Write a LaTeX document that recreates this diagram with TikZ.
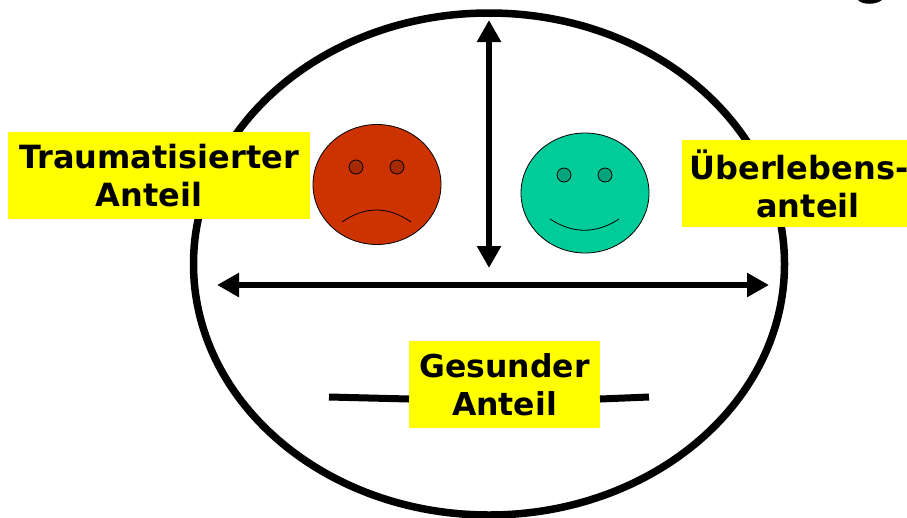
\documentclass[tikz,border=0pt]{standalone}
\usepackage{fontspec}
\setmainfont{DejaVu Sans}
\usetikzlibrary{arrows.meta,shapes.geometric}
\definecolor{sadred}{RGB}{204,51,0}
\definecolor{sadeye}{RGB}{165,42,0}
\definecolor{happygreen}{RGB}{0,204,153}
\definecolor{happyeye}{RGB}{0,165,124}
\definecolor{boxyellow}{RGB}{255,255,0}
\tikzset{
  x=1pt,y=-1pt,
  headshape/.style={draw=black,line width=7.5pt,ellipse,minimum width=591pt,minimum height=502pt,inner sep=0pt,outer sep=0pt},
  label box/.style={fill=boxyellow,inner sep=0pt,outer sep=0pt,align=center,font=\fontsize{32}{38}\selectfont\bfseries,text=black},
  face/.style={draw=black,line width=0.8pt,ellipse,minimum width=128pt,minimum height=120pt,inner sep=0pt},
  eye/.style={draw=black,line width=0.8pt,circle,minimum size=14pt,inner sep=0pt},
  mouth/.style={draw=black,line width=0.8pt},
  dbl/.style={line width=6pt,{Triangle[length=22pt,width=23pt]}-{Triangle[length=22pt,width=23pt]}},
  stroke/.style={line width=7pt}
}
\begin{document}
\begin{tikzpicture}
\useasboundingbox (0,0) rectangle (907,517);
\fill[black] (858,0) .. controls (862,5) and (876,5) .. (882,0) -- cycle;
\node[headshape] (head) at (489,264) {};
\coordinate (lineL) at (329,397);
\coordinate (lineR) at (649,397);
\node[label box,minimum width=191pt,minimum height=87pt] (gesund) at (504.5,384.5) {\fontsize{31.5}{38}\selectfont Gesunder\\\fontsize{31.5}{38}\selectfont Anteil};
\draw[stroke] (lineL) -- (gesund.west |- 0,399);
\draw[stroke] (gesund.east |- 0,399) -- (lineR);
\coordinate (vT) at (489,20);
\coordinate (vB) at (489,268);
\coordinate (hL) at (217,285);
\coordinate (hR) at (769,285);
\draw[dbl] (vT) -- (vB);
\draw[dbl] (hL) -- (hR);
\node[face,fill=sadred] (sad) at (377,184.5) {};
\node[eye,fill=sadeye] (sadL) at (356,167) {};
\node[eye,fill=sadeye] (sadR) at (397,167) {};
\coordinate (sm1) at (342,222);
\coordinate (sm2) at (411,222);
\draw[mouth] (sm1) .. controls (365,206) and (388,206) .. (sm2);
\node[face,fill=happygreen] (happy) at (585,193) {};
\node[eye,fill=happyeye] (hapL) at (564,175) {};
\node[eye,fill=happyeye] (hapR) at (605,175) {};
\coordinate (hm1) at (550,219);
\coordinate (hm2) at (619,219);
\draw[mouth] (hm1) .. controls (573,234) and (596,234) .. (hm2);
\node[label box,minimum width=302pt,minimum height=87pt] (trauma) at (159,175.5) {Traumatisierter\\Anteil\hspace*{20pt}};
\node[label box,minimum width=234pt,minimum height=87pt] (ueber) at (799,183.5) {Überlebens-\\\hspace*{18pt}anteil};
\end{tikzpicture}
\end{document}
